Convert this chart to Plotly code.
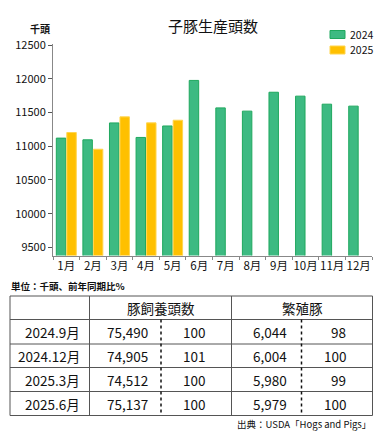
import plotly.graph_objects as go

months = ["1月", "2月", "3月", "4月", "5月", "6月", "7月", "8月", "9月", "10月", "11月", "12月"]
v2024 = [11120, 11095, 11345, 11130, 11300, 11975, 11568, 11520, 11800, 11742, 11623, 11594]
v2025 = [11203, 10955, 11435, 11346, 11385, None, None, None, None, None, None, None]
y_ticks = [9500, 10000, 10500, 11000, 11500, 12000, 12500]
series_names = ["2024", "2025"]

table_labels = ["2024.9月", "2024.12月", "2025.3月", "2025.6月"]
hog_inventory = ["75,490", "74,905", "74,512", "75,137"]
hog_ratio = ["100", "101", "100", "100"]
breeding = ["6,044", "6,004", "5,980", "5,979"]
breeding_ratio = ["98", "100", "99", "100"]
table_headers = ["豚飼養頭数", "繁殖豚"]

W, H = 382, 435
FONT = "Noto Sans CJK JP"
GREEN, GREEN_LINE = "#3dba82", "#1fa85e"
YELLOW, YELLOW_LINE = "#ffc000", "#ffd54f"


def px(x):
    return x / W


def py(y):
    return 1 - y / H


fig = go.Figure()
fig.add_trace(go.Bar(x=months, y=v2024, name=series_names[0],
                     marker=dict(color=GREEN, line=dict(color=GREEN_LINE, width=1))))
fig.add_trace(go.Bar(x=months, y=v2025, name=series_names[1],
                     marker=dict(color=YELLOW, line=dict(color=YELLOW_LINE, width=1))))

shapes = []
annotations = []

# title and labels
annotations.append(dict(text="子豚生産頭数", x=px(213), y=py(25), xref="paper", yref="paper",
                        showarrow=False, font=dict(size=15, color="#111", family=FONT),
                        xanchor="center", yanchor="middle"))
annotations.append(dict(text="<b>千頭</b>", x=px(40), y=py(29), xref="paper", yref="paper",
                        showarrow=False, font=dict(size=10, color="#111", family=FONT),
                        xanchor="center", yanchor="middle"))
annotations.append(dict(text="<b>単位：千頭、前年同期比%</b>", x=px(9), y=py(286), xref="paper", yref="paper",
                        showarrow=False, font=dict(size=9.5, color="#111", family=FONT),
                        xanchor="left", yanchor="middle"))
annotations.append(dict(text="出典：USDA「Hogs and Pigs」", x=px(373), y=py(424), xref="paper", yref="paper",
                        showarrow=False, font=dict(size=9.5, color="#111", family=FONT),
                        xanchor="right", yanchor="middle"))

# manual legend
for name, col, lc, yc in [(series_names[0], GREEN, GREEN_LINE, 34.5), (series_names[1], YELLOW, YELLOW_LINE, 50)]:
    shapes.append(dict(type="rect", xref="paper", yref="paper", x0=px(330), x1=px(345),
                       y0=py(yc - 4), y1=py(yc + 4), fillcolor=col, line=dict(color=lc, width=1)))
    annotations.append(dict(text=name, x=px(348), y=py(yc), xref="paper", yref="paper", showarrow=False,
                            font=dict(size=10.5, color="#111", family=FONT),
                            xanchor="left", yanchor="middle"))

# table geometry
tx0, tx1 = 10, 372.5
cols = [10, 89.5, 161, 231.5, 301.5, 372.5]
rows = [296, 319.5, 344, 367.5, 391.5, 415.5]
line_c = "#555"
shapes.append(dict(type="rect", xref="paper", yref="paper", x0=px(tx0), x1=px(tx1),
                   y0=py(rows[0]), y1=py(rows[-1]), line=dict(color=line_c, width=1)))
for r in rows[1:-1]:
    shapes.append(dict(type="line", xref="paper", yref="paper", x0=px(tx0), x1=px(tx1),
                       y0=py(r), y1=py(r), line=dict(color=line_c, width=1)))
for c in [cols[1], cols[3]]:
    shapes.append(dict(type="line", xref="paper", yref="paper", x0=px(c), x1=px(c),
                       y0=py(rows[0]), y1=py(rows[-1]), line=dict(color=line_c, width=1)))
for c in [cols[2], cols[4]]:
    shapes.append(dict(type="line", xref="paper", yref="paper", x0=px(c), x1=px(c),
                       y0=py(rows[1]), y1=py(rows[-1]), line=dict(color="#111", width=1.5, dash="dot")))

tf = dict(size=13.5, color="#111", family=FONT)
annotations.append(dict(text=table_headers[0], x=px((cols[1] + cols[3]) / 2), y=py((rows[0] + rows[1]) / 2),
                        xref="paper", yref="paper", showarrow=False, font=tf, xanchor="center", yanchor="middle"))
annotations.append(dict(text=table_headers[1], x=px((cols[3] + cols[5]) / 2), y=py((rows[0] + rows[1]) / 2),
                        xref="paper", yref="paper", showarrow=False, font=tf, xanchor="center", yanchor="middle"))
for i in range(len(table_labels)):
    yc = py((rows[i + 1] + rows[i + 2]) / 2)
    for text, xr in [(table_labels[i], 82), (hog_inventory[i], 150), (hog_ratio[i], 207),
                     (breeding[i], 289), (breeding_ratio[i], 348)]:
        annotations.append(dict(text=text, x=px(xr), y=yc, xref="paper", yref="paper", showarrow=False,
                                font=tf, xanchor="right", yanchor="middle"))

fig.update_layout(
    width=W, height=H,
    margin=dict(l=0, r=0, t=0, b=0, autoexpand=False),
    paper_bgcolor="white", plot_bgcolor="white",
    barmode="group", bargap=0.21, bargroupgap=0.1,
    font=dict(family=FONT, color="#111"),
    showlegend=False,
    xaxis=dict(domain=[px(53), px(372)], showline=True, linecolor="#888", linewidth=1, automargin=False,
               ticks="outside", tickson="boundaries", ticklen=3, tickcolor="#888", tickangle=0,
               tickfont=dict(size=11.5, family=FONT, color="#111"), showgrid=False, fixedrange=True),
    yaxis=dict(domain=[py(255.5), py(44)], range=[9380, 12515], tickvals=y_ticks, tickformat="d",
               showline=True, linecolor="#888", linewidth=1, ticks="outside", ticklen=4, automargin=False,
               tickcolor="#555", tickfont=dict(size=11, family=FONT, color="#111"),
               showgrid=False, zeroline=False, fixedrange=True),
    shapes=shapes, annotations=annotations,
)

fig.write_html("out.html", config={"displayModeBar": False},
               post_script="document.body.style.margin='0';document.body.style.overflow='hidden';")
